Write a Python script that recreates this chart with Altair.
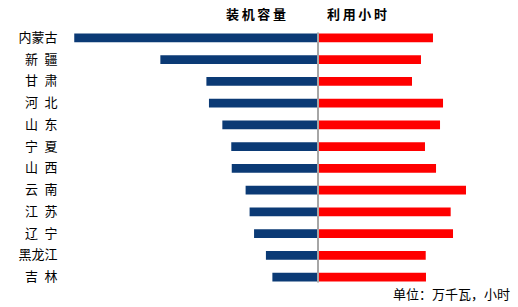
import altair as alt
import pandas as pd

provinces = ["内蒙古", "新\u2002疆", "甘\u2002肃", "河\u2002北", "山\u2002东", "宁\u2002夏",
             "山\u2002西", "云\u2002南", "江\u2002苏", "辽\u2002宁", "黑龙江", "吉\u2002林"]
capacity = [2557, 1650, 1165, 1138, 997, 903, 898, 752, 710, 663, 538, 470]
hours = [1727, 1547, 1412, 1878, 1833, 1607, 1773, 2223, 1993, 2028, 1618, 1622]
left_title = ["装\u2009机\u2009容\u2009量"]
right_title = ["利\u2009用\u2009小\u2009时"]
unit_note = ["单位：万千瓦，小时"]

df = pd.DataFrame({"province": provinces, "capacity": capacity, "hours": hours})

FONT = "Noto Sans CJK SC"
H = 261
band = alt.Scale(paddingInner=0.59, paddingOuter=0.295)

left_bars = alt.Chart(df).mark_bar(color="#0b3a75").encode(
    x=alt.X("capacity:Q", scale=alt.Scale(domain=[0, 2665], reverse=True), axis=None),
    y=alt.Y("province:N", sort=provinces, scale=band,
            axis=alt.Axis(title=None, ticks=False, domain=False, labelPadding=7,
                          labelFontSize=13, labelFont=FONT, labelColor="#000000")),
)
left_head = alt.Chart(pd.DataFrame({"t": left_title})).mark_text(
    font=FONT, fontSize=13, fontWeight="bold", color="#000000"
).encode(text="t:N", x=alt.value(192), y=alt.value(-12))
left = alt.layer(left_bars, left_head).properties(width=253, height=H)

right_bars = alt.Chart(df).mark_bar(color="#ff0000").encode(
    x=alt.X("hours:Q", scale=alt.Scale(domain=[0, 2884]), axis=None),
    y=alt.Y("province:N", sort=provinces, scale=band, axis=None),
)
center = alt.Chart(pd.DataFrame({"a": [0]})).mark_rule(color="#a6a6a6", strokeWidth=2).encode(
    x=alt.value(0), y=alt.value(5.5), y2=alt.value(255.5)
)
right_head = alt.Chart(pd.DataFrame({"t": right_title})).mark_text(
    font=FONT, fontSize=13, fontWeight="bold", color="#000000"
).encode(text="t:N", x=alt.value(39), y=alt.value(-12))
note = alt.Chart(pd.DataFrame({"t": unit_note})).mark_text(
    font=FONT, fontSize=13, color="#000000", align="right"
).encode(text="t:N", x=alt.value(192), y=alt.value(H + 7))
right = alt.layer(right_bars, center, right_head, note).properties(width=192, height=H)

chart = alt.hconcat(left, right, spacing=0).configure_view(stroke=None).properties(
    padding={"left": 17, "top": 9, "right": 8, "bottom": 5}
)
chart.save("out.html", embed_options={"renderer": "svg", "actions": False})
